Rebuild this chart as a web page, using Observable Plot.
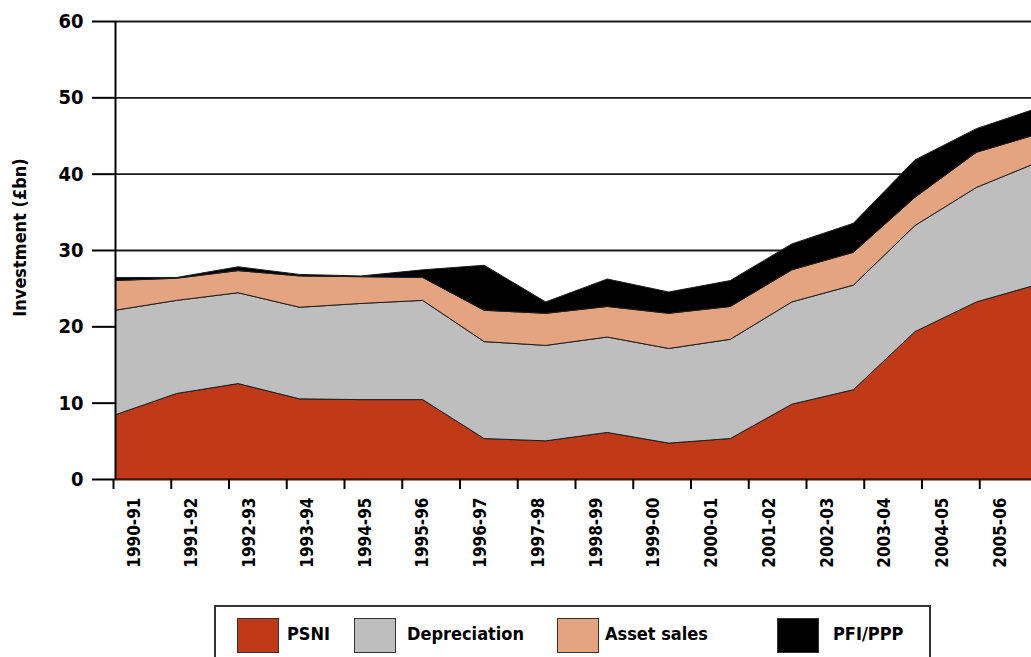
<!DOCTYPE html>
<html>
<head>
<meta charset="utf-8">
<script src="https://cdn.jsdelivr.net/npm/d3@7"></script>
<script src="https://cdn.jsdelivr.net/npm/@observablehq/plot@0.6"></script>
<style>
  html, body { margin: 0; padding: 0; background: #fff; overflow: hidden; }
  #wrap { position: relative; width: 1031px; height: 657px; overflow: hidden; font-family: "DejaVu Sans Condensed", "Liberation Sans Narrow", sans-serif; font-weight: bold; }
  #chart svg { display: block; overflow: hidden; }
  #legend { position: absolute; left: 214px; top: 605px; width: 717px; height: 70px; border: 2px solid #333; box-sizing: border-box; }
  .sw { position: absolute; top: 11px; width: 42px; height: 35px; border: 1.5px solid #333; box-sizing: border-box; }
  .lb { position: absolute; top: 14px; font-size: 18px; color: #000; line-height: 26px; }
</style>
</head>
<body>
<div id="wrap">
  <div id="chart"></div>
  <div id="legend"></div>
</div>
<script>
const years = ["1990-91","1991-92","1992-93","1993-94","1994-95","1995-96","1996-97","1997-98",
               "1998-99","1999-00","2000-01","2001-02","2002-03","2003-04","2004-05","2005-06"];
const series = ["PSNI", "Depreciation", "Asset sales", "PFI/PPP"];
const psni         = [8.4, 11.2, 12.5, 10.5, 10.4, 10.4, 5.3, 5.0, 6.1, 4.7, 5.3, 9.8, 11.7, 19.3, 23.2, 25.5];
const depreciation = [13.7, 12.2, 11.9, 12.0, 12.6, 13.0, 12.7, 12.5, 12.5, 12.4, 13.0, 13.4, 13.7, 13.9, 15.0, 16.0];
const assetSales   = [3.9, 2.9, 2.9, 4.1, 3.5, 3.0, 4.1, 4.2, 4.0, 4.6, 4.3, 4.2, 4.3, 3.7, 4.6, 3.7];
const pfi          = [0.4, 0.1, 0.5, 0.2, 0.1, 1.0, 5.9, 1.5, 3.6, 2.8, 3.4, 3.4, 3.8, 4.9, 3.1, 3.4];
const yTicks = [0, 10, 20, 30, 40, 50, 60];
const colors = ["#C13A18", "#BEBEBE", "#E4A47F", "#000000"];
const yLabel = "Investment (£bn)";

const valuesBySeries = [psni, depreciation, assetSales, pfi];
const data = series.flatMap((s, k) => valuesBySeries[k].map((v, i) => ({i, series: s, value: v})));

// category axis: tick marks are spaced slightly tighter than the data points in the original
const dataStep = 61.53, tickStep = 57.75, tickStart = -2; // pixels
const tickPos = years.map((_, i) => (tickStart + tickStep * i) / dataStep);
const labelPos = years.map((y, i) => ({label: y, x: (tickStart + tickStep * i + 26) / dataStep}));

const font = '"DejaVu Sans Condensed", "Liberation Sans Narrow", sans-serif';

const chart = Plot.plot({
  width: 1031,
  height: 600,
  marginLeft: 115,
  marginRight: 0,
  marginTop: 21,
  marginBottom: 121,
  style: {fontFamily: font, fontWeight: "bold", background: "#fff", color: "#000"},
  x: {domain: [0, years.length - 1], range: [115, 115 + dataStep * (years.length - 1)]},
  y: {domain: [0, 60]},
  color: {domain: series, range: colors},
  marks: [
    Plot.ruleY(yTicks.filter(d => d > 0), {stroke: "#1a1a1a", strokeWidth: 1.8}),
    Plot.areaY(data, Plot.stackY({order: series}, {x: "i", y: "value", z: "series", fill: "series", stroke: "#1e1e1e", strokeWidth: 1, clip: true})),
    Plot.ruleY([0], {stroke: "#4a1206", strokeWidth: 2}),
    Plot.ruleX([0], {y1: 0, y2: 60, stroke: "#000", strokeWidth: 2}),
    Plot.axisY({ticks: yTicks, tickSize: 23, tickPadding: 9, fontSize: 20, fontWeight: "bold", strokeWidth: 2, label: null}),
    Plot.axisX({ticks: tickPos, tickSize: 10, tickFormat: () => "", strokeWidth: 2, label: null}),
    Plot.text(labelPos, {x: "x", frameAnchor: "bottom", text: "label", rotate: -90, textAnchor: "end", dy: 18, fontSize: 17, fontWeight: "bold", fill: "#000"}),
    Plot.text([yLabel], {frameAnchor: "left", text: d => d, rotate: -90, textAnchor: "middle", dx: -95, dy: -13, fontSize: 18, fontWeight: "bold", fill: "#000"})
  ]
});
document.getElementById("chart").appendChild(chart);

// legend below the chart
const legend = document.getElementById("legend");
const swLeft = [21, 138, 341, 561];
const lbLeft = [71, 191, 389, 617];
series.forEach((s, k) => {
  const sw = document.createElement("div");
  sw.className = "sw";
  sw.style.left = swLeft[k] + "px";
  sw.style.background = colors[k];
  legend.appendChild(sw);
  const lb = document.createElement("div");
  lb.className = "lb";
  lb.style.left = lbLeft[k] + "px";
  lb.textContent = s;
  legend.appendChild(lb);
});
</script>
</body>
</html>
